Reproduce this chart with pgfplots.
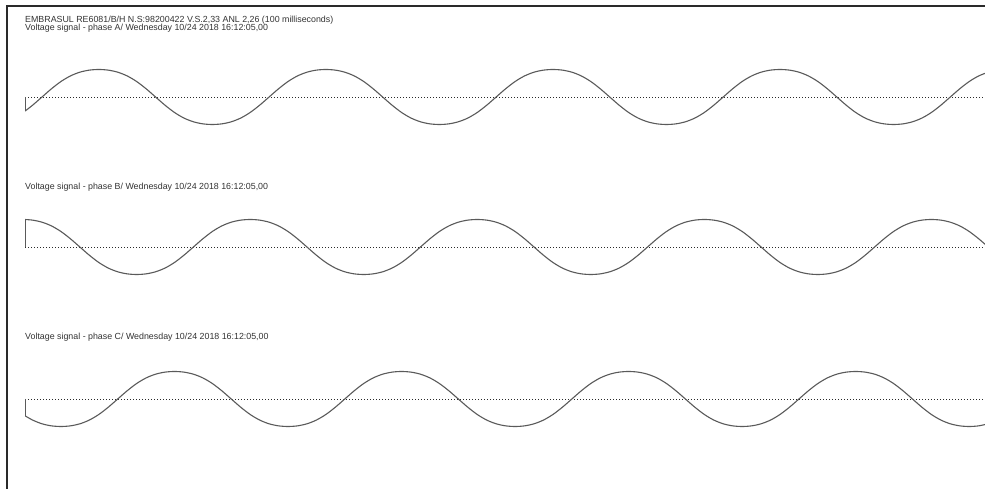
\documentclass[border=0pt]{standalone}
\usepackage{pgfplots}
\usepackage{pgfplotstable}
\pgfplotsset{compat=1.18}
\usepackage{fontspec}
\setmainfont{Liberation Sans}
\definecolor{wave}{HTML}{5A5A5A}
\definecolor{frame}{HTML}{2A2A2A}
\definecolor{txt}{HTML}{333333}

\pgfplotstableread{
x A B C
0 -0.514 0.999 -0.609
12 -0.299 0.977 -0.766
27 0 0.902 -0.902
42 0.299 0.766 -0.977
57 0.563 0.563 -1
72 0.766 0.299 -0.977
87 0.902 0 -0.902
102 0.977 -0.299 -0.766
117 1 -0.563 -0.563
132 0.977 -0.766 -0.299
147 0.902 -0.902 0
162 0.766 -0.977 0.299
177 0.563 -1 0.563
192 0.299 -0.977 0.766
207 0 -0.902 0.902
222 -0.299 -0.766 0.977
237 -0.563 -0.563 1
252 -0.766 -0.299 0.977
267 -0.902 0 0.902
282 -0.977 0.299 0.766
297 -1 0.563 0.563
312 -0.977 0.766 0.299
327 -0.902 0.902 0
342 -0.766 0.977 -0.299
357 -0.563 1 -0.563
372 -0.299 0.977 -0.766
387 0 0.902 -0.902
402 0.299 0.766 -0.977
417 0.563 0.563 -1
432 0.766 0.299 -0.977
447 0.902 0 -0.902
462 0.977 -0.299 -0.766
477 1 -0.563 -0.563
492 0.977 -0.766 -0.299
507 0.902 -0.902 0
522 0.766 -0.977 0.299
537 0.563 -1 0.563
552 0.299 -0.977 0.766
567 0 -0.902 0.902
582 -0.299 -0.766 0.977
597 -0.563 -0.563 1
612 -0.766 -0.299 0.977
627 -0.902 0 0.902
642 -0.977 0.299 0.766
657 -1 0.563 0.563
672 -0.977 0.766 0.299
687 -0.902 0.902 0
702 -0.766 0.977 -0.299
717 -0.563 1 -0.563
732 -0.299 0.977 -0.766
747 0 0.902 -0.902
762 0.299 0.766 -0.977
777 0.563 0.563 -1
792 0.766 0.299 -0.977
807 0.902 0 -0.902
822 0.977 -0.299 -0.766
837 1 -0.563 -0.563
852 0.977 -0.766 -0.299
867 0.902 -0.902 0
882 0.766 -0.977 0.299
897 0.563 -1 0.563
912 0.299 -0.977 0.766
927 0 -0.902 0.902
942 -0.299 -0.766 0.977
957 -0.563 -0.563 1
972 -0.766 -0.299 0.977
987 -0.902 0 0.902
1002 -0.977 0.299 0.766
1017 -1 0.563 0.563
1032 -0.977 0.766 0.299
1047 -0.902 0.902 0
1062 -0.766 0.977 -0.299
1077 -0.563 1 -0.563
1092 -0.299 0.977 -0.766
1107 0 0.902 -0.902
1122 0.299 0.766 -0.977
1137 0.563 0.563 -1
1152 0.766 0.299 -0.977
1167 0.902 0 -0.902
1182 0.977 -0.299 -0.766
1197 1 -0.563 -0.563
1212 0.977 -0.766 -0.299
1227 0.902 -0.902 0
1242 0.766 -0.977 0.299
1257 0.563 -1 0.563
1272 0.299 -0.977 0.766
1287 0 -0.902 0.902
1302 -0.299 -0.766 0.977
1317 -0.563 -0.563 1
1332 -0.766 -0.299 0.977
1347 -0.902 0 0.902
1362 -0.977 0.299 0.766
1377 -1 0.563 0.563
1392 -0.977 0.766 0.299
1407 -0.902 0.902 0
1422 -0.766 0.977 -0.299
1437 -0.563 1 -0.563
1452 -0.299 0.977 -0.766
1467 0 0.902 -0.902
1482 0.299 0.766 -0.977
1497 0.563 0.563 -1
1512 0.766 0.299 -0.977
1527 0.902 0 -0.902
}\wavedata

\pgfplotsset{
  wavebox/.style={scale only axis, width=960pt, height=66pt,
    xmin=0, xmax=1522, ymin=-1.2, ymax=1.2, axis lines=none, clip=true, anchor=west},
  wline/.style={color=wave, line width=1.1pt, smooth, mark=none},
  zline/.style={color=frame, line width=0.9pt, dash pattern=on 1.2pt off 1.8pt, mark=none},
}

\begin{document}
\begin{tikzpicture}[x=1pt,y=1pt]
\useasboundingbox (0,0) rectangle (985,489);
\fill[white] (0,0) rectangle (985,489);

% Phase A
\begin{axis}[wavebox, at={(25pt,392pt)}]
\addplot[zline] coordinates {(0,0) (1522,0)};
\addplot[color=wave, line width=1.1pt, mark=none] coordinates {(0,0) (0,-0.514)};
\addplot[wline] table[x=x, y=A] {\wavedata};
\end{axis}

% Phase B
\begin{axis}[wavebox, at={(25pt,242pt)}]
\addplot[zline] coordinates {(0,0) (1522,0)};
\addplot[color=wave, line width=1.1pt, mark=none] coordinates {(0,0) (0,0.999)};
\addplot[wline] table[x=x, y=B] {\wavedata};
\end{axis}

% Phase C
\begin{axis}[wavebox, at={(25pt,90pt)}]
\addplot[zline] coordinates {(0,0) (1522,0)};
\addplot[color=wave, line width=1.1pt, mark=none] coordinates {(0,0) (0,-0.609)};
\addplot[wline] table[x=x, y=C] {\wavedata};
\end{axis}

\draw[color=frame, line width=1.4pt] (7,0) -- (7,483) -- (985,483);

\begin{scope}[every node/.style={anchor=base west, inner sep=0pt, text=txt, font=\fontsize{8.85}{10}\selectfont}]
\node at (25,466.5) {EMBRASUL RE6081/B/H N.S:98200422 V.S.2,33 ANL 2,26 (100 milliseconds)};
\node at (25,458) {Voltage signal - phase A/ Wednesday 10/24 2018 16:12:05,00};
\node at (25,299.5) {Voltage signal - phase B/ Wednesday 10/24 2018 16:12:05,00};
\node at (25,149.5) {Voltage signal - phase C/ Wednesday 10/24 2018 16:12:05,00};
\end{scope}
\end{tikzpicture}
\end{document}
